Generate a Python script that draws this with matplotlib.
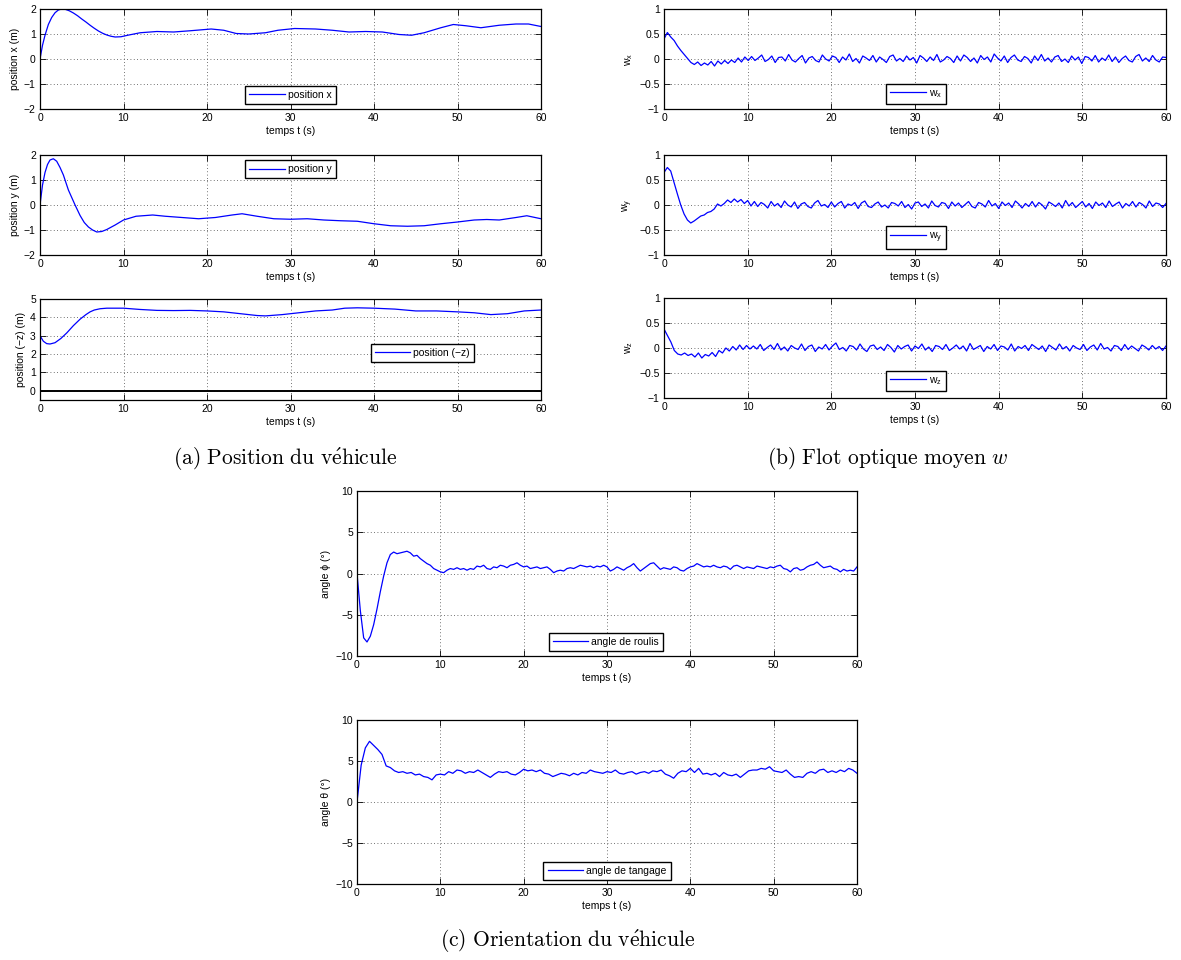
import numpy as np
import matplotlib
matplotlib.use("Agg")
import matplotlib.pyplot as plt

plt.rcParams['font.family'] = ['Liberation Sans', 'DejaVu Sans']
plt.rcParams['axes.unicode_minus'] = True

# ---------------- data ----------------
tx = [0, 0.3, 0.6, 1.0, 1.4, 1.8, 2.2, 2.6, 3.0, 3.5, 4.0, 4.5, 5.0, 5.5, 6.0, 6.5, 7.0, 7.5, 8.0, 8.5, 9.0,
      9.7, 10.5, 12, 14, 16, 18, 20.5, 22, 23.5, 25, 27, 28.5, 30.5, 33, 35, 37, 39, 41, 43, 44.5, 46, 48,
      49.5, 51, 52.8, 55, 57, 58.5, 60]
pos_x = [0, 0.55, 0.95, 1.38, 1.66, 1.85, 1.96, 2.0, 1.99, 1.93, 1.84, 1.73, 1.6, 1.48, 1.35, 1.23, 1.12,
         1.03, 0.96, 0.91, 0.88, 0.89, 0.95, 1.05, 1.1, 1.08, 1.13, 1.2, 1.15, 1.02, 1.0, 1.05, 1.15, 1.22,
         1.2, 1.15, 1.08, 1.1, 1.08, 0.98, 0.95, 1.05, 1.25, 1.38, 1.33, 1.25, 1.35, 1.4, 1.4, 1.3]

ty = [0, 0.3, 0.6, 0.9, 1.2, 1.6, 2.0, 2.4, 2.8, 3.4, 4.2, 4.8, 5.3, 5.8, 6.3, 6.8, 7.4, 8.0, 9.0, 10.0,
      11.5, 13.5, 15, 17, 19, 21, 23, 24.2, 26, 28, 30, 32, 34, 36, 38, 40, 42, 44, 46, 48, 50, 52, 53.5,
      55, 57, 58.3, 60]
pos_y = [0, 0.8, 1.3, 1.62, 1.8, 1.85, 1.75, 1.5, 1.2, 0.6, 0.0, -0.42, -0.7, -0.88, -1.0, -1.08, -1.06,
         -0.98, -0.8, -0.6, -0.45, -0.4, -0.45, -0.5, -0.55, -0.5, -0.4, -0.35, -0.45, -0.55, -0.57, -0.55,
         -0.6, -0.63, -0.65, -0.75, -0.83, -0.85, -0.83, -0.75, -0.68, -0.6, -0.58, -0.6, -0.5, -0.43, -0.55]

tz = [0, 0.4, 0.8, 1.2, 1.8, 2.5, 3.2, 4.0, 4.8, 5.5, 6.0, 6.5, 7.2, 8, 10, 12, 14, 16, 18, 20, 22, 24, 26,
      27, 29, 31, 33, 35, 36.5, 38, 40, 42.5, 45, 47.5, 50, 52, 54, 56, 58, 60]
pos_z = [3.0, 2.7, 2.57, 2.55, 2.62, 2.85, 3.15, 3.55, 3.9, 4.15, 4.3, 4.4, 4.47, 4.5, 4.5, 4.43, 4.38,
         4.37, 4.38, 4.35, 4.3, 4.2, 4.1, 4.08, 4.15, 4.25, 4.35, 4.4, 4.5, 4.52, 4.5, 4.45, 4.35, 4.35, 4.3,
         4.25, 4.15, 4.2, 4.35, 4.4]

w_x = [0.40, 0.53, 0.44, 0.37, 0.26, 0.17, 0.09, 0.01, -0.07, -0.11, -0.06, -0.13, -0.08, -0.12, -0.05,
       -0.14, -0.04, -0.10, -0.03, -0.09, -0.02, -0.07, 0.02, -0.06, 0.04, -0.03,
       0.05, -0.03, 0.02, 0.08, -0.05, -0.01, 0.06, -0.07, 0.03, 0.04, -0.04, 0.09, -0.02, -0.06, 0.01, 0.07,
       -0.08, 0.02, 0.05, -0.03, -0.06, 0.08, 0.00, -0.04, 0.06, 0.03, -0.07, 0.04, -0.02, 0.10, -0.05, 0.01,
       -0.08, 0.06, 0.02, -0.03, 0.07, -0.06, 0.04, -0.01, -0.07, 0.05, 0.08, -0.04, 0.01, -0.05, 0.06, -0.02,
       0.03, -0.08, 0.07, 0.02, -0.05, 0.04, -0.03, 0.09, -0.06, -0.02, 0.05, 0.01, -0.07, 0.06, -0.04, 0.08,
       0.03, -0.05, 0.02, -0.08, 0.07, -0.01, 0.04, -0.06, 0.10, 0.02, -0.04, 0.06, -0.07, 0.03, 0.08, -0.02,
       -0.05, 0.05, 0.01, -0.08, 0.06, -0.03, 0.09, -0.04, 0.02, -0.06, 0.04, 0.07, -0.05, 0.00, -0.07, 0.06,
       -0.02, 0.04, -0.09, 0.05, 0.03, -0.04, 0.07, -0.06, 0.02, -0.03, 0.08, -0.05, 0.04, -0.07, 0.01, 0.06,
       -0.03, -0.06, 0.05, 0.09, -0.04, 0.02, -0.05, 0.07, -0.02, -0.06, 0.04, 0.03]

w_y = [0.65, 0.75, 0.68, 0.45, 0.22, 0.0, -0.18, -0.30, -0.36, -0.32, -0.27, -0.22, -0.20, -0.15, -0.13,
       -0.08, 0.02, -0.02, 0.03, 0.10, 0.05, 0.12, 0.06, 0.11, 0.03, 0.09, -0.02, 0.07,
       -0.03, 0.05, 0.01, -0.06, 0.07, -0.02, 0.03, -0.05, 0.08, 0.00, -0.04, 0.06, -0.07, 0.02, 0.05, -0.03,
       -0.06, 0.04, 0.09, -0.02, 0.01, -0.05, 0.06, -0.04, 0.03, 0.07, -0.06, 0.02, -0.01, 0.05, -0.07, 0.04,
       0.08, -0.03, -0.05, 0.02, 0.06, -0.04, 0.00, -0.06, 0.05, 0.03, -0.02, 0.07, -0.05, 0.01, -0.08, 0.04,
       0.06, -0.03, 0.02, -0.06, 0.08, -0.01, -0.04, 0.05, 0.03, -0.07, 0.06, -0.02, 0.04, -0.05, 0.01, 0.07,
       -0.03, -0.06, 0.05, 0.02, -0.04, 0.09, -0.02, 0.03, -0.07, 0.06, -0.01, 0.04, -0.05, 0.08, 0.02, -0.06,
       0.03, -0.03, 0.07, -0.04, 0.05, 0.00, -0.08, 0.06, 0.02, -0.03, 0.04, -0.06, 0.09, -0.02, 0.05, -0.05,
       0.01, 0.07, -0.04, 0.03, -0.07, 0.06, -0.01, 0.04, -0.05, 0.08, -0.03, 0.02, 0.06, -0.06, 0.03, -0.02,
       0.07, -0.04, 0.05, 0.01, -0.06, 0.08, -0.03, 0.04, 0.02, -0.05, 0.03]

w_z = [0.38, 0.25, 0.12, -0.05, -0.12, -0.14, -0.10, -0.15, -0.12, -0.18, -0.10, -0.20, -0.13, -0.16,
       -0.09, -0.17, -0.05, -0.10, 0.00, -0.06, 0.03, -0.04, 0.06, -0.03, 0.05, -0.02,
       0.04, -0.02, 0.07, -0.05, 0.01, 0.06, -0.03, 0.09, -0.04, 0.02, -0.06, 0.05, 0.00, -0.03, 0.08, -0.05,
       0.03, 0.06, -0.07, 0.02, -0.02, 0.07, -0.04, 0.04, 0.10, -0.03, 0.01, -0.06, 0.05, 0.03, -0.04, 0.08,
       -0.02, -0.07, 0.04, 0.06, -0.03, 0.02, -0.05, 0.07, 0.01, -0.08, 0.05, -0.02, 0.03, 0.06, -0.06, 0.04,
       -0.01, 0.08, -0.04, 0.02, -0.07, 0.05, 0.03, -0.03, 0.07, -0.05, 0.00, 0.06, -0.02, 0.04, -0.06, 0.09,
       -0.03, 0.01, 0.05, -0.07, 0.03, -0.02, 0.07, -0.05, 0.04, 0.02, -0.04, 0.08, -0.06, 0.03, -0.01, 0.05,
       -0.05, 0.07, 0.02, -0.03, 0.04, -0.07, 0.06, 0.01, -0.04, 0.08, -0.02, 0.03, -0.06, 0.05, 0.00, -0.03,
       0.07, -0.05, 0.02, 0.06, -0.04, 0.09, -0.02, 0.01, -0.06, 0.05, 0.03, -0.05, 0.07, -0.03, 0.04, -0.01,
       -0.06, 0.06, 0.02, -0.04, 0.05, -0.02, 0.03, -0.05, 0.04]

roll = [0.0, -4.5, -7.8, -8.3, -7.6, -6.2, -4.3, -2.2, -0.3, 1.3, 2.3, 2.6, 2.4, 2.5, 2.6, 2.7, 2.5, 2.1,
        2.2, 1.8, 1.5, 1.2, 1.0, 0.6, 0.4, 0.2, 0.1, 0.4, 0.6, 0.5, 0.7, 0.5, 0.6, 0.4, 0.6, 0.5, 0.9, 0.8,
        1.0, 0.6, 0.5, 0.8, 0.7, 1.0, 0.9, 0.7, 1.0, 1.1, 1.3, 1.0, 0.8, 0.9, 0.6, 0.7, 0.8, 0.6, 0.7, 0.8,
        0.5, 0.1, 0.3, 0.4, 0.3, 0.6, 0.7, 0.6, 0.8, 1.0, 0.9, 0.8, 0.9, 0.7, 0.9, 0.8, 1.0, 0.8, 0.3, 0.5,
        0.8, 0.6, 0.4, 0.7, 0.9, 1.2, 0.7, 0.3, 0.6, 0.9, 1.2, 1.3, 0.9, 0.5, 0.7, 0.6, 0.5, 0.8, 0.7, 0.4,
        0.3, 0.6, 0.8, 0.9, 1.2, 1.0, 0.8, 0.9, 0.8, 1.0, 0.8, 0.7, 0.9, 0.8, 0.5, 0.9, 1.0, 0.8, 0.6, 0.8,
        0.7, 0.6, 0.9, 0.8, 0.7, 0.6, 0.8, 0.7, 0.9, 1.0, 0.6, 0.5, 0.2, 0.6, 0.7, 0.4, 0.5, 0.8, 1.0, 1.1,
        1.4, 1.0, 0.7, 0.8, 0.9, 0.6, 0.5, 0.2, 0.5, 0.3, 0.4, 0.3, 0.8]

pitch = [0.0, 4.5, 6.6, 7.4, 6.9, 6.4, 5.8, 4.4, 4.2, 3.8, 3.6, 3.7, 3.5, 3.6, 3.3, 3.4, 3.1, 3.0, 2.7,
         3.3, 3.4, 3.3, 3.7, 3.5, 3.9, 3.8, 3.5, 3.7, 3.6, 3.9, 3.6, 3.3, 3.0, 3.4, 3.7, 3.6, 3.7, 3.4, 3.3,
         3.6, 4.0, 3.8, 3.9, 3.7, 3.9, 3.5, 3.4, 3.1, 3.3, 3.5, 3.4, 3.2, 3.5, 3.3, 3.6, 3.5, 3.9, 3.7, 3.6,
         3.5, 3.7, 3.6, 3.9, 3.5, 3.4, 3.6, 3.7, 3.4, 3.6, 3.7, 3.5, 3.8, 3.7, 3.9, 3.4, 3.2, 2.9, 3.5, 3.8,
         3.7, 4.1, 3.6, 4.1, 3.4, 3.5, 3.3, 3.5, 3.1, 3.6, 3.3, 3.2, 3.4, 3.0, 3.4, 3.8, 3.9, 3.9, 4.1, 4.0,
         4.3, 3.8, 3.7, 3.6, 3.9, 3.4, 3.0, 3.1, 3.0, 3.5, 3.7, 3.5, 3.9, 4.0, 3.6, 3.8, 3.6, 3.9, 3.7, 4.1,
         3.9, 3.5]

xticks = [0, 10, 20, 30, 40, 50, 60]
xlabel = 'temps t (s)'

W, H = 1181, 960
fig = plt.figure(figsize=(W / 100, H / 100), dpi=100)

def px_axes(x0, x1, y0, y1):
    return fig.add_axes([x0 / W, 1 - y1 / H, (x1 - x0) / W, (y1 - y0) / H])

FS = 7.5
BLUE = (0, 0, 1)

def style(ax, ylim, yticks, ylabel):
    ax.set_xlim(0, 60)
    ax.set_ylim(*ylim)
    ax.set_xticks(xticks)
    ax.set_yticks(yticks)
    ax.tick_params(direction='in', top=True, right=True, labelsize=FS, length=4, width=0.6, pad=3)
    ax.grid(True, color='#444444', linestyle=(0, (1, 3)), linewidth=0.6)
    for s in ax.spines.values():
        s.set_linewidth(0.9)
    ax.set_xlabel(xlabel, fontsize=FS, labelpad=2)
    ax.set_ylabel(ylabel, fontsize=FS, labelpad=3)

def leg(ax, loc, anchor):
    l = ax.legend(loc=loc, bbox_to_anchor=anchor, fontsize=FS, fancybox=False, framealpha=1,
                  edgecolor='black', borderpad=0.4, handlelength=3.4, handletextpad=0.3,
                  borderaxespad=0)
    l.get_frame().set_linewidth(1.0)

# (a) position
ax = px_axes(40, 541, 9, 109)
ax.plot(tx, pos_x, color=BLUE, lw=0.9, label='position x')
style(ax, (-2, 2), [-2, -1, 0, 1, 2], 'position x (m)')
leg(ax, 'lower center', (0.5, 0.05))

ax = px_axes(40, 541, 155, 255)
ax.plot(ty, pos_y, color=BLUE, lw=0.9, label='position y')
style(ax, (-2, 2), [-2, -1, 0, 1, 2], 'position y (m)')
leg(ax, 'upper center', (0.5, 0.95))

ax = px_axes(40, 541, 299, 400)
ax.plot(tz, pos_z, color=BLUE, lw=0.9, label='position (\u2212z)')
ax.axhline(0, color='black', lw=1.4)
style(ax, (-0.5, 5), [0, 1, 2, 3, 4, 5], 'position (\u2212z) (m)')
leg(ax, 'center', (0.763, 0.465))

# (b) optical flow
for (y0, y1, data, name, anc) in [(9, 109, w_x, 'x', 0.05), (155, 255, w_y, 'y', 0.06),
                                  (298, 398, w_z, 'z', 0.07)]:
    ax = px_axes(664, 1166, y0, y1)
    t = np.linspace(0, 60, len(data))
    ax.plot(t, data, color=BLUE, lw=0.9, label=r'$\mathregular{w_%s}$' % name)
    style(ax, (-1, 1), [-1, -0.5, 0, 0.5, 1], r'$\mathregular{w_%s}$' % name)
    ax.set_yticklabels(['\u22121', '\u22120.5', '0', '0.5', '1'])
    leg(ax, 'lower center', (0.502, anc))

# (c) orientation
ax = px_axes(357, 857, 491, 656)
ax.plot(np.linspace(0, 60, len(roll)), roll, color=BLUE, lw=0.9, label='angle de roulis')
style(ax, (-10, 10), [-10, -5, 0, 5, 10], 'angle \u03d5 (\u00b0)')
leg(ax, 'lower center', (0.498, 0.03))

ax = px_axes(357, 857, 720, 884)
ax.plot(np.linspace(0, 60, len(pitch)), pitch, color=BLUE, lw=0.9, label='angle de tangage')
style(ax, (-10, 10), [-10, -5, 0, 5, 10], 'angle \u03b8 (\u00b0)')
leg(ax, 'lower center', (0.5, 0.024))

# captions
CFS = 15.5
fig.text(285 / W, 1 - 459 / H, r'$\mathrm{(a)\ Position\ du\ v\acute{e}hicule}$', ha='center', va='center',
         fontsize=CFS, math_fontfamily='cm')
fig.text(888 / W, 1 - 459 / H, r'$\mathrm{(b)\ Flot\ optique\ moyen\ }w$', ha='center', va='center',
         fontsize=CFS, math_fontfamily='cm')
fig.text(568 / W, 1 - 940 / H, r'$\mathrm{(c)\ Orientation\ du\ v\acute{e}hicule}$', ha='center', va='center',
         fontsize=CFS, math_fontfamily='cm')

fig.savefig('out.png', dpi=100)
